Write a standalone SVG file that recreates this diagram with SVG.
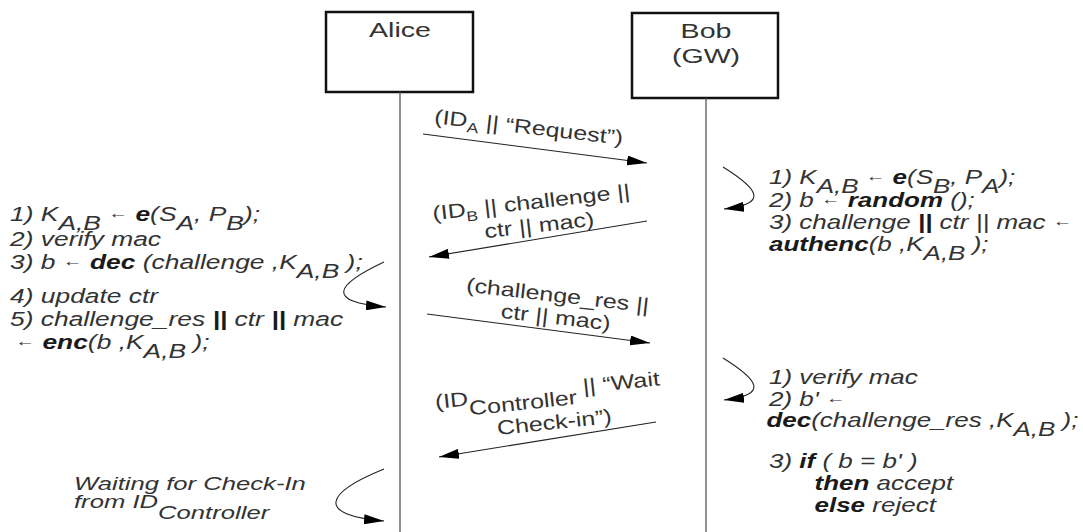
<svg xmlns="http://www.w3.org/2000/svg" width="1083" height="532" viewBox="0 0 1083 532">
  <style>
    .t { font-family: "Liberation Sans", Arial, sans-serif; font-size: 20px; fill: #333; }
    .it { font-style: italic; }
    .b { font-weight: bold; fill: #1a1a1a; }
    .ar { font-size: 15px; baseline-shift: 3px; }
    .sm { font-size: 14px; }
    .box { fill: #fff; stroke: #111; stroke-width: 2.5; }
    .life { stroke: #555; stroke-width: 1.3; fill: none; }
    .msg { stroke: #222; stroke-width: 1.1; fill: none; marker-end: url(#head); }
  </style>
  <defs>
    <marker id="head" markerUnits="userSpaceOnUse" markerWidth="20" markerHeight="10" refX="20" refY="5" orient="auto">
      <path d="M0,0 L20,5 L0,10 z" fill="#000"/>
    </marker>
  </defs>
  <rect width="1083" height="532" fill="#fff"/>

  <!-- participants -->
  <g id="alice">
    <rect class="box" x="326" y="12" width="147" height="80"/>
    <text class="t" text-anchor="middle" transform="translate(400 37) scale(1.43 1)">Alice</text>
  </g>
  <g id="bob">
    <rect class="box" x="632" y="13" width="146" height="85"/>
    <text class="t" text-anchor="middle" transform="translate(706 38) scale(1.43 1)">Bob</text>
    <text class="t" text-anchor="middle" transform="translate(706 63) scale(1.43 1)">(GW)</text>
  </g>

  <!-- lifelines, messages and self-calls -->
  <g id="connectors">
    <line class="life" x1="400" y1="92" x2="400" y2="532"/>
    <line class="life" x1="706" y1="98" x2="706" y2="532"/>
    <line class="msg" x1="423" y1="134" x2="647" y2="163"/>
    <line class="msg" x1="647" y1="221" x2="429" y2="257"/>
    <line class="msg" x1="427" y1="314" x2="650" y2="343"/>
    <line class="msg" x1="656" y1="422" x2="439" y2="457"/>
    <path class="msg" d="M723,167 C760,190 768,204 724,209"/>
    <path class="msg" d="M723,358 C760,381 768,395 724,400"/>
    <path class="msg" d="M384,262 C335,285 325,302 386,307"/>
    <path class="msg" d="M384,469 C325,493 315,515 384,521"/>
  </g>

  <!-- message labels -->
  <g id="msg-request">
    <text class="t" text-anchor="middle" transform="translate(528 134) rotate(6.5) scale(1.25 1)">(ID<tspan class="sm" dy="5">A</tspan><tspan dy="-5"> || “Request”)</tspan></text>
  </g>
  <g id="msg-challenge">
    <text class="t" text-anchor="middle" transform="translate(532 209) rotate(-6.5) scale(1.25 1)">(ID<tspan class="sm" dy="5">B</tspan><tspan dy="-5"> || challenge  ||</tspan></text>
    <text class="t" text-anchor="middle" transform="translate(540 232) rotate(-6.5) scale(1.25 1)">ctr || mac)</text>
  </g>
  <g id="msg-response">
    <text class="t" text-anchor="middle" transform="translate(557 302) rotate(6.5) scale(1.25 1)">(challenge_res ||</text>
    <text class="t" text-anchor="middle" transform="translate(555 324) rotate(6.5) scale(1.25 1)">ctr  || mac)</text>
  </g>
  <g id="msg-wait">
    <text class="t" text-anchor="middle" transform="translate(548 397) rotate(-6) scale(1.25 1)">(ID<tspan dy="10">Controller</tspan><tspan dy="-10"> || “Wait</tspan></text>
    <text class="t" text-anchor="middle" transform="translate(555 429) rotate(-6) scale(1.25 1)">Check-in”)</text>
  </g>

  <!-- Alice side computation -->
  <g id="alice-steps" transform="translate(10 0) scale(1.32 1)">
    <text class="t it">
      <tspan x="0" y="221">1) K<tspan dy="9">A,B</tspan><tspan dy="-9"> <tspan class="ar">←</tspan> </tspan><tspan class="b">e</tspan>(S<tspan dy="9">A</tspan><tspan dy="-9">, P</tspan><tspan dy="9">B</tspan><tspan dy="-9">);</tspan></tspan>
      <tspan x="0" y="246">2) verify mac</tspan>
      <tspan x="0" y="269">3) b <tspan class="ar">←</tspan> <tspan class="b">dec</tspan> (challenge ,K<tspan dy="9">A,B</tspan><tspan dy="-9"> );</tspan></tspan>
      <tspan x="0" y="303">4) update ctr</tspan>
      <tspan x="0" y="326">5) challenge_res <tspan class="b">||</tspan> ctr  <tspan class="b">||</tspan> mac</tspan>
      <tspan x="4" y="349"><tspan class="ar">←</tspan> <tspan class="b">enc</tspan>(b ,K<tspan dy="9">A,B</tspan><tspan dy="-9"> );</tspan></tspan>
    </text>
  </g>

  <!-- Bob side: challenge generation -->
  <g id="bob-steps-1" transform="translate(769 0) scale(1.3 1)">
    <text class="t it">
      <tspan x="0" y="184">1) K<tspan dy="9">A,B</tspan><tspan dy="-9"> <tspan class="ar">←</tspan> </tspan><tspan class="b">e</tspan>(S<tspan dy="9">B</tspan><tspan dy="-9">, P</tspan><tspan dy="9">A</tspan><tspan dy="-9">);</tspan></tspan>
      <tspan x="0" y="207">2) b <tspan class="ar">←</tspan> <tspan class="b">random</tspan> ();</tspan>
      <tspan x="0" y="229">3) challenge <tspan class="b">||</tspan> ctr || mac  <tspan class="ar">←</tspan></tspan>
      <tspan x="0" y="251"><tspan class="b">authenc</tspan>(b ,K<tspan dy="9">A,B</tspan><tspan dy="-9"> );</tspan></tspan>
    </text>
  </g>

  <!-- Bob side: response check -->
  <g id="bob-steps-2" transform="translate(769 0) scale(1.3 1)">
    <text class="t it">
      <tspan x="0" y="384">1) verify mac</tspan>
      <tspan x="0" y="406">2) b' <tspan class="ar">←</tspan></tspan>
      <tspan x="-2" y="427"><tspan class="b">dec</tspan>(challenge_res ,K<tspan dy="9">A,B</tspan><tspan dy="-9"> );</tspan></tspan>
      <tspan x="0" y="468">3) <tspan class="b">if</tspan> ( b = b' )</tspan>
      <tspan x="35" y="490"><tspan class="b">then</tspan> accept</tspan>
      <tspan x="35" y="512"><tspan class="b">else</tspan> reject</tspan>
    </text>
  </g>

  <!-- Alice waiting note -->
  <g id="alice-wait" transform="translate(74 0) scale(1.35 1)">
    <text class="t it" style="font-size:19px">
      <tspan x="0" y="490">Waiting for Check-In</tspan>
      <tspan x="0" y="508">from ID<tspan dy="11">Controller</tspan></tspan>
    </text>
  </g>
</svg>
